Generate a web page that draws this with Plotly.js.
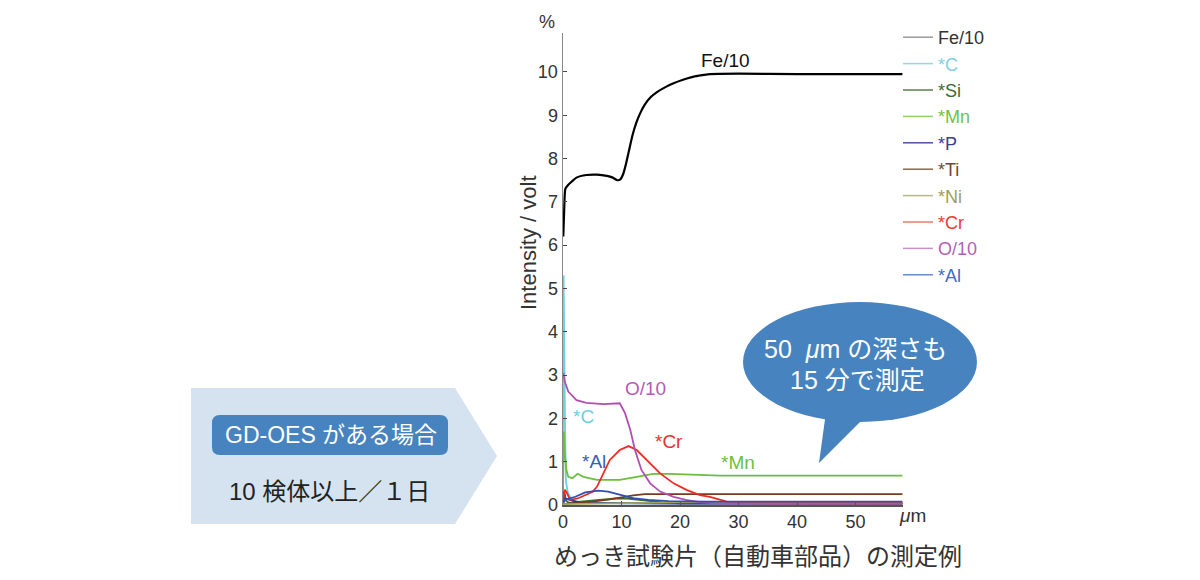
<!DOCTYPE html>
<html>
<head>
<meta charset="utf-8">
<script src="https://cdn.plot.ly/plotly-3.0.1.min.js"></script>
<style>html,body{margin:0;padding:0;background:#fff;}#chart{width:1200px;height:580px;}</style>
</head>
<body>
<div id="chart"></div>
<script>
// ---- data (depth in µm, intensity in volt) ----
const seriesNames = ['Fe/10', '*C', '*Si', '*Mn', '*P', '*Ti', '*Ni', '*Cr', 'O/10', '*Al'];

const feX = [0.05, 0.2, 0.4, 0.8, 1.5, 2.3, 4, 5.8, 7.5, 8.5, 9.3, 9.8, 10.3, 10.8, 11.3, 11.9, 12.5, 13.2, 14, 15, 16, 17.5, 18.9, 20.5, 21.7, 23.5, 25.1, 30, 40, 50, 58];
const feY = [6.2, 6.8, 7.3, 7.38, 7.47, 7.56, 7.62, 7.63, 7.6, 7.56, 7.5, 7.52, 7.65, 7.9, 8.2, 8.55, 8.82, 9.05, 9.25, 9.42, 9.53, 9.65, 9.74, 9.82, 9.87, 9.92, 9.95, 9.96, 9.95, 9.95, 9.95];

const cX = [0, 0.1, 0.2, 0.35, 0.5, 0.8, 1.5, 3, 10, 58];
const cY = [0.3, 5.3, 4.0, 1.8, 0.55, 0.3, 0.12, 0.06, 0.04, 0.03];

const siX = [0, 0.2, 0.5, 1, 3, 6, 9, 11, 14, 17, 20, 58];
const siY = [0.1, 0.35, 0.1, 0.05, 0.08, 0.12, 0.15, 0.15, 0.1, 0.06, 0.04, 0.03];

const mnX = [0, 0.15, 0.3, 0.6, 0.9, 1.6, 2.5, 3.5, 5.8, 9.7, 12.6, 15.4, 18.3, 26.8, 40, 58];
const mnY = [0.3, 1.7, 1.2, 0.8, 0.65, 0.62, 0.72, 0.65, 0.58, 0.58, 0.65, 0.72, 0.72, 0.68, 0.68, 0.68];

const pX = [0, 0.3, 3, 8, 12, 20, 58];
const pY = [0.02, 0.15, 0.05, 0.04, 0.04, 0.03, 0.03];

const tiX = [0, 2, 5, 8, 10, 12, 14, 20, 58];
const tiY = [0.02, 0.04, 0.08, 0.13, 0.18, 0.22, 0.25, 0.25, 0.25];

const niX = [0, 5, 10, 15, 20, 58];
const niY = [0.02, 0.03, 0.05, 0.06, 0.06, 0.06];

const crX = [0, 0.3, 0.6, 1.2, 2.5, 4, 5, 5.8, 6.9, 8, 9.7, 11.2, 12.6, 14.3, 16.6, 18.9, 21.1, 23.4, 25.1, 27.4, 28.5, 35, 58];
const crY = [0.1, 0.35, 0.3, 0.12, 0.15, 0.23, 0.3, 0.42, 0.73, 1.04, 1.27, 1.36, 1.27, 1.04, 0.73, 0.5, 0.35, 0.23, 0.19, 0.1, 0.05, 0.04, 0.04];

const oX = [0.05, 0.3, 0.9, 2.3, 4, 6.9, 9.7, 10.6, 11.5, 12.3, 13.4, 14.9, 16.6, 18.9, 21, 23, 26, 30, 40, 58];
const oY = [3.05, 2.85, 2.62, 2.42, 2.36, 2.33, 2.35, 2.12, 1.73, 1.27, 0.81, 0.5, 0.31, 0.19, 0.12, 0.07, 0.04, 0.03, 0.03, 0.03];

const alX = [0, 0.3, 2.1, 3.8, 6, 7.7, 10, 12.3, 14.6, 18, 25, 58];
const alY = [0.05, 0.12, 0.19, 0.29, 0.33, 0.31, 0.23, 0.15, 0.12, 0.09, 0.08, 0.08];

const xTicks = [0, 10, 20, 30, 40, 50];
const yTicks = [0, 1, 2, 3, 4, 5, 6, 7, 8, 9, 10];

// ---- styles ----
const lineColors  = ['#000000', '#6fcfe0', '#3b6a2c', '#6cbf3c', '#2e2e88', '#7a3a22', '#a6a65a', '#ee2a22', '#b050b0', '#3050b0'];
const legLineCols = ['#999999', '#8fd8e6', '#5a7f4a', '#8fd06a', '#5050a0', '#8a6a50', '#b8b888', '#f07868', '#c890c8', '#6a8ad0'];
const legTextCols = ['#333333', '#7fd0e0', '#3d6b2f', '#72c23f', '#3d3d96', '#6e4a33', '#9e9e5a', '#ee3b30', '#b35fb5', '#3f6cbf'];
const xs = [feX, cX, siX, mnX, pX, tiX, niX, crX, oX, alX];
const ys = [feY, cY, siY, mnY, pY, tiY, niY, crY, oY, alY];

const FONT = 'Liberation Sans, Arial, Noto Sans CJK JP, sans-serif';
const JFONT = 'Liberation Sans, Noto Sans CJK JP, sans-serif';

const L = 563, R = 903, T = 33, B = 505;
const fx = p => (p - L) / (R - L);
const fy = p => (B - p) / (B - T);

const traces = [];
seriesNames.forEach((n, i) => {
  traces.push({
    x: xs[i], y: ys[i], type: 'scatter', mode: 'lines', name: n,
    showlegend: false, hoverinfo: 'skip',
    line: i === 0 ? {color: lineColors[i], width: 2.2, shape: 'spline', smoothing: 0.6}
                  : {color: lineColors[i], width: 1.8}
  });
});
seriesNames.forEach((n, i) => {
  traces.push({
    x: [null], y: [null], type: 'scatter', mode: 'lines',
    name: '<span style="color:' + legTextCols[i] + '">' + n + '</span>',
    legendgroup: 'g' + i, showlegend: true,
    line: {color: legLineCols[i], width: 1.5}
  });
});

function pathFromPx(pts) {
  return 'M' + pts.map(p => fx(p[0]).toFixed(5) + ',' + fy(p[1]).toFixed(5)).join(' L') + ' Z';
}
function roundRect(x0, y0, x1, y1, r) {
  const P = (a, b) => fx(a).toFixed(5) + ',' + fy(b).toFixed(5);
  return 'M' + P(x0 + r, y0) + ' L' + P(x1 - r, y0) + ' Q' + P(x1, y0) + ' ' + P(x1, y0 + r) +
    ' L' + P(x1, y1 - r) + ' Q' + P(x1, y1) + ' ' + P(x1 - r, y1) +
    ' L' + P(x0 + r, y1) + ' Q' + P(x0, y1) + ' ' + P(x0, y1 - r) +
    ' L' + P(x0, y0 + r) + ' Q' + P(x0, y0) + ' ' + P(x0 + r, y0) + ' Z';
}

const BLUE = '#4783bf';
const shapes = [
  {type: 'path', xref: 'paper', yref: 'paper', layer: 'above',
   path: pathFromPx([[191, 388], [455, 388], [497, 456], [455, 524], [191, 524]]),
   fillcolor: '#d5e2ef', line: {width: 0}},
  {type: 'path', xref: 'paper', yref: 'paper', layer: 'above',
   path: roundRect(212, 415, 448, 455, 8), fillcolor: BLUE, line: {width: 0}},
  {type: 'circle', xref: 'paper', yref: 'paper', layer: 'above',
   x0: fx(743), x1: fx(977), y0: fy(422), y1: fy(302), fillcolor: BLUE, line: {width: 0}},
  {type: 'path', xref: 'paper', yref: 'paper', layer: 'above',
   path: pathFromPx([[826, 412], [870, 412], [819, 463]]), fillcolor: BLUE, line: {width: 0}}
];

function ann(text, x, y, opts) {
  return Object.assign({text: text, x: fx(x), y: fy(y), xref: 'paper', yref: 'paper',
    showarrow: false, xanchor: 'center', yanchor: 'middle',
    font: {family: FONT, size: 16, color: '#333'}}, opts || {});
}

const annotations = [
  ann('%', 547, 22, {font: {family: FONT, size: 18, color: '#333'}}),
  ann('<i>μ</i>m', 912, 515, {font: {family: FONT, size: 19, color: '#333'}}),
  ann('Intensity / volt', 528, 243, {textangle: -90, font: {family: FONT, size: 22, color: '#333'}}),
  ann('Fe/10', 725, 61, {font: {family: FONT, size: 19, color: '#111'}}),
  ann('O/10', 645, 388, {font: {family: FONT, size: 19, color: '#b55ab5'}}),
  ann('*Cr', 669, 441, {font: {family: FONT, size: 19, color: '#e8322a'}}),
  ann('*Mn', 738, 462, {font: {family: FONT, size: 19, color: '#6cbf3c'}}),
  ann('*Al', 594, 461, {font: {family: FONT, size: 19, color: '#3a5db5'}}),
  ann('*C', 583, 416, {font: {family: FONT, size: 19, color: '#6fcfe0'}}),
  ann('50\u00a0\u00a0<i>μ</i>m の深さも', 855, 349, {font: {family: JFONT, size: 25, color: '#ffffff'}}),
  ann('15 分で測定', 857, 380, {font: {family: JFONT, size: 25, color: '#ffffff'}}),
  ann('GD-OES がある場合', 331, 435, {font: {family: JFONT, size: 23, color: '#ffffff'}}),
  ann('10 検体以上／１日', 329, 491, {font: {family: JFONT, size: 24, color: '#222'}}),
  ann('めっき試験片（自動車部品）の測定例', 758, 556, {font: {family: JFONT, size: 24, color: '#333'}})
];

const layout = {
  width: 1200, height: 580,
  margin: {l: L, r: 1200 - R, t: T, b: 580 - B, pad: 0},
  paper_bgcolor: '#ffffff', plot_bgcolor: 'rgba(0,0,0,0)',
  showlegend: true,
  legend: {x: fx(898), y: fy(19), xanchor: 'left', yanchor: 'top',
    font: {family: FONT, size: 18, color: '#333'}, bgcolor: 'rgba(0,0,0,0)',
    tracegroupgap: 0, itemwidth: 30},
  xaxis: {range: [0, 58.1], tickvals: xTicks, ticktext: xTicks.map(String),
    showgrid: false, zeroline: false, showline: true, linecolor: '#555', linewidth: 1.5,
    ticks: 'inside', ticklen: 4, tickcolor: '#555',
    tickfont: {family: FONT, size: 18, color: '#333'}, fixedrange: true},
  yaxis: {range: [0, 10.9], tickvals: yTicks, ticktext: yTicks.map(String),
    showgrid: false, zeroline: false, showline: true, linecolor: '#888', linewidth: 1.5,
    ticks: 'inside', ticklen: 4, tickcolor: '#444',
    tickfont: {family: FONT, size: 18, color: '#333'}, fixedrange: true},
  shapes: shapes,
  annotations: annotations
};

Plotly.newPlot('chart', traces, layout, {displayModeBar: false, staticPlot: true});
</script>
</body>
</html>
